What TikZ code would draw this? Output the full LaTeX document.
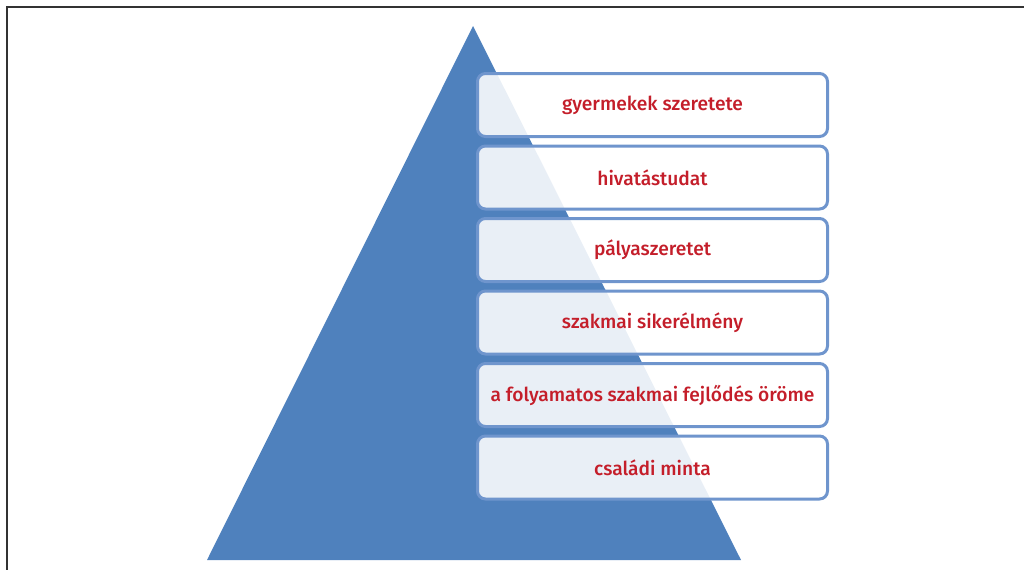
\documentclass[tikz,border=0pt]{standalone}
\usepackage{fontspec}
\setmainfont{Fira Sans}[UprightFont=* Medium]
\usepackage{xcolor}
\usetikzlibrary{positioning}
\definecolor{pyrblue}{HTML}{4F81BD}
\definecolor{boxline}{HTML}{6F95CD}
\definecolor{textred}{HTML}{C41E2A}
\definecolor{framegray}{HTML}{333333}

\begin{document}
\begin{tikzpicture}[x=1pt,y=-1pt,
  valuebox/.style={draw=boxline,line width=3pt,rounded corners=8pt,
    fill=white,fill opacity=0.88,text opacity=1,text=textred,
    minimum width=350pt,minimum height=63pt,inner sep=0pt,
    font=\fontsize{19.2}{23}\selectfont},
  node distance=6.5pt]
  \useasboundingbox (0,0) rectangle (1024,570);
  % frame
  \draw[framegray,line width=2pt] (1024,6.5) -- (6.5,6.5) -- (6.5,570);

  % pyramid
  \fill[pyrblue] (473,26) -- (741,560) -- (207,560) -- cycle;

  \node[valuebox] (love) at (652.5,105) {gyermekek szeretete};
  \node[valuebox,below=of love] (calling) {hivatástudat};
  \node[valuebox,below=of calling] (career) {pályaszeretet};
  \node[valuebox,below=of career] (success) {szakmai sikerélmény};
  \node[valuebox,below=of success] (growth) {a folyamatos szakmai fejlődés öröme};
  \node[valuebox,below=of growth] (family) {családi minta};
\end{tikzpicture}
\end{document}
